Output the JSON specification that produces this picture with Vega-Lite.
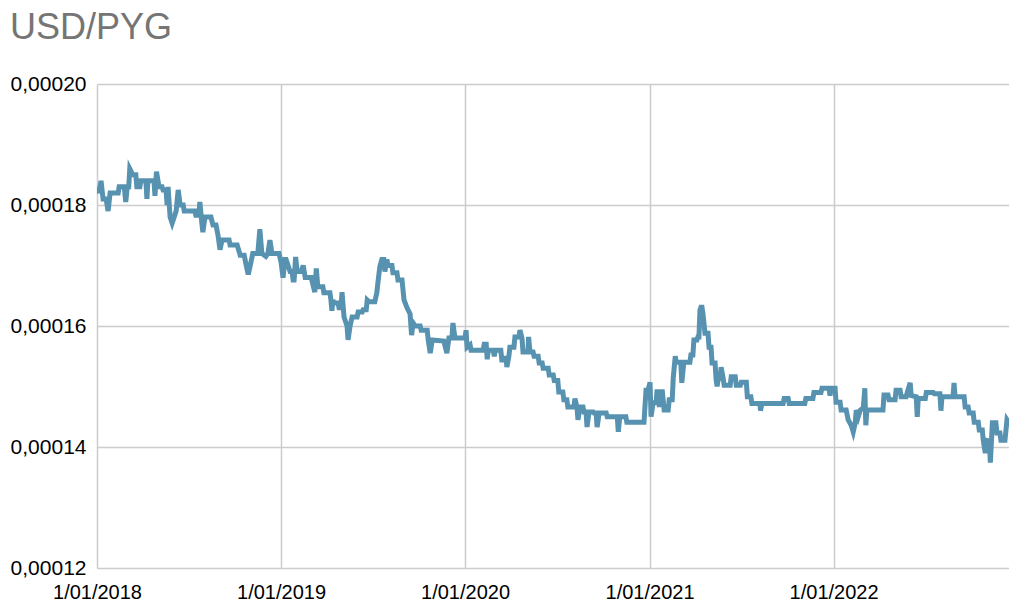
{
  "$schema": "https://vega.github.io/schema/vega-lite/v6.json",
  "autosize": "none",
  "width": 912,
  "height": 484,
  "padding": {"left": 97, "top": 84, "right": 0, "bottom": 35},
  "background": "white",
  "title": {
    "text": "USD/PYG",
    "anchor": "start",
    "frame": "group",
    "dx": -87,
    "offset": 26,
    "font": "Liberation Sans",
    "fontSize": 36,
    "fontWeight": "normal",
    "color": "#757575"
  },
  "config": {
    "view": {"stroke": null},
    "font": "Liberation Sans"
  },
  "data": {
    "values": [
      {"date": "2018-01-01", "rate": 0.000183},
      {"date": "2018-01-05", "rate": 0.000182},
      {"date": "2018-01-09", "rate": 0.000184},
      {"date": "2018-01-13", "rate": 0.000181},
      {"date": "2018-01-19", "rate": 0.000181},
      {"date": "2018-01-23", "rate": 0.000179},
      {"date": "2018-01-27", "rate": 0.000182},
      {"date": "2018-02-12", "rate": 0.000182},
      {"date": "2018-02-14", "rate": 0.000183},
      {"date": "2018-02-24", "rate": 0.000183},
      {"date": "2018-02-27", "rate": 0.0001805},
      {"date": "2018-03-02", "rate": 0.000183},
      {"date": "2018-03-05", "rate": 0.000183},
      {"date": "2018-03-07", "rate": 0.000186},
      {"date": "2018-03-13", "rate": 0.000185},
      {"date": "2018-03-19", "rate": 0.000185},
      {"date": "2018-03-21", "rate": 0.000183},
      {"date": "2018-03-27", "rate": 0.000183},
      {"date": "2018-03-29", "rate": 0.000184},
      {"date": "2018-04-08", "rate": 0.000184},
      {"date": "2018-04-10", "rate": 0.000181},
      {"date": "2018-04-12", "rate": 0.000184},
      {"date": "2018-04-24", "rate": 0.000184},
      {"date": "2018-04-26", "rate": 0.0001815},
      {"date": "2018-04-29", "rate": 0.0001855},
      {"date": "2018-05-04", "rate": 0.000183},
      {"date": "2018-05-10", "rate": 0.000183},
      {"date": "2018-05-12", "rate": 0.0001825},
      {"date": "2018-05-18", "rate": 0.0001825},
      {"date": "2018-05-20", "rate": 0.00018},
      {"date": "2018-05-22", "rate": 0.000183},
      {"date": "2018-05-26", "rate": 0.000178},
      {"date": "2018-05-30", "rate": 0.000177},
      {"date": "2018-06-03", "rate": 0.000178},
      {"date": "2018-06-07", "rate": 0.000179},
      {"date": "2018-06-11", "rate": 0.0001825},
      {"date": "2018-06-15", "rate": 0.00018},
      {"date": "2018-06-21", "rate": 0.00018},
      {"date": "2018-06-23", "rate": 0.000179},
      {"date": "2018-07-14", "rate": 0.000179},
      {"date": "2018-07-16", "rate": 0.0001783},
      {"date": "2018-07-22", "rate": 0.0001783},
      {"date": "2018-07-24", "rate": 0.0001805},
      {"date": "2018-07-28", "rate": 0.000177},
      {"date": "2018-07-30", "rate": 0.0001755},
      {"date": "2018-08-03", "rate": 0.000178},
      {"date": "2018-08-15", "rate": 0.000178},
      {"date": "2018-08-19", "rate": 0.0001767},
      {"date": "2018-08-25", "rate": 0.0001767},
      {"date": "2018-08-29", "rate": 0.000175},
      {"date": "2018-09-02", "rate": 0.0001726},
      {"date": "2018-09-06", "rate": 0.0001742},
      {"date": "2018-09-20", "rate": 0.0001742},
      {"date": "2018-09-22", "rate": 0.0001734},
      {"date": "2018-10-06", "rate": 0.0001734},
      {"date": "2018-10-12", "rate": 0.0001717},
      {"date": "2018-10-20", "rate": 0.0001717},
      {"date": "2018-10-24", "rate": 0.00017},
      {"date": "2018-10-28", "rate": 0.0001685},
      {"date": "2018-11-01", "rate": 0.00017},
      {"date": "2018-11-06", "rate": 0.000172},
      {"date": "2018-11-16", "rate": 0.000172},
      {"date": "2018-11-20", "rate": 0.000176},
      {"date": "2018-11-24", "rate": 0.000172},
      {"date": "2018-12-02", "rate": 0.0001715},
      {"date": "2018-12-06", "rate": 0.000172},
      {"date": "2018-12-10", "rate": 0.0001742},
      {"date": "2018-12-14", "rate": 0.000172},
      {"date": "2018-12-28", "rate": 0.000172},
      {"date": "2019-01-01", "rate": 0.0001706},
      {"date": "2019-01-05", "rate": 0.000168},
      {"date": "2019-01-09", "rate": 0.000171},
      {"date": "2019-01-11", "rate": 0.000171},
      {"date": "2019-01-19", "rate": 0.000169},
      {"date": "2019-01-23", "rate": 0.000169},
      {"date": "2019-01-25", "rate": 0.0001676},
      {"date": "2019-01-27", "rate": 0.0001676},
      {"date": "2019-01-30", "rate": 0.0001714},
      {"date": "2019-02-02", "rate": 0.000169},
      {"date": "2019-02-10", "rate": 0.000169},
      {"date": "2019-02-14", "rate": 0.00017},
      {"date": "2019-02-18", "rate": 0.000168},
      {"date": "2019-03-02", "rate": 0.000168},
      {"date": "2019-03-04", "rate": 0.0001673},
      {"date": "2019-03-09", "rate": 0.0001656},
      {"date": "2019-03-12", "rate": 0.0001695},
      {"date": "2019-03-15", "rate": 0.0001665},
      {"date": "2019-03-25", "rate": 0.0001665},
      {"date": "2019-03-27", "rate": 0.0001655},
      {"date": "2019-04-08", "rate": 0.0001655},
      {"date": "2019-04-10", "rate": 0.0001643},
      {"date": "2019-04-12", "rate": 0.0001625},
      {"date": "2019-04-14", "rate": 0.0001643},
      {"date": "2019-04-16", "rate": 0.0001638},
      {"date": "2019-04-24", "rate": 0.0001638},
      {"date": "2019-04-26", "rate": 0.000163},
      {"date": "2019-04-30", "rate": 0.000163},
      {"date": "2019-05-02", "rate": 0.0001656},
      {"date": "2019-05-06", "rate": 0.0001615},
      {"date": "2019-05-12", "rate": 0.00016},
      {"date": "2019-05-14", "rate": 0.0001577},
      {"date": "2019-05-18", "rate": 0.00016},
      {"date": "2019-05-22", "rate": 0.0001615},
      {"date": "2019-06-01", "rate": 0.0001615},
      {"date": "2019-06-03", "rate": 0.0001623},
      {"date": "2019-06-11", "rate": 0.0001623},
      {"date": "2019-06-13", "rate": 0.0001627},
      {"date": "2019-06-19", "rate": 0.0001627},
      {"date": "2019-06-21", "rate": 0.0001643},
      {"date": "2019-06-25", "rate": 0.000164},
      {"date": "2019-07-06", "rate": 0.000164},
      {"date": "2019-07-10", "rate": 0.0001655},
      {"date": "2019-07-12", "rate": 0.000167},
      {"date": "2019-07-16", "rate": 0.0001698},
      {"date": "2019-07-20", "rate": 0.000171},
      {"date": "2019-07-24", "rate": 0.000171},
      {"date": "2019-07-26", "rate": 0.000169},
      {"date": "2019-07-30", "rate": 0.000171},
      {"date": "2019-08-01", "rate": 0.00017},
      {"date": "2019-08-09", "rate": 0.00017},
      {"date": "2019-08-11", "rate": 0.0001688},
      {"date": "2019-08-19", "rate": 0.0001688},
      {"date": "2019-08-21", "rate": 0.0001676},
      {"date": "2019-08-29", "rate": 0.0001676},
      {"date": "2019-09-02", "rate": 0.0001643},
      {"date": "2019-09-08", "rate": 0.000163},
      {"date": "2019-09-14", "rate": 0.000162},
      {"date": "2019-09-17", "rate": 0.0001585},
      {"date": "2019-09-20", "rate": 0.0001605},
      {"date": "2019-09-24", "rate": 0.00016},
      {"date": "2019-10-04", "rate": 0.00016},
      {"date": "2019-10-06", "rate": 0.0001593},
      {"date": "2019-10-18", "rate": 0.0001593},
      {"date": "2019-10-20", "rate": 0.0001577},
      {"date": "2019-10-24", "rate": 0.0001555},
      {"date": "2019-10-28", "rate": 0.0001577},
      {"date": "2019-11-20", "rate": 0.0001575},
      {"date": "2019-11-26", "rate": 0.0001555},
      {"date": "2019-11-30", "rate": 0.000158},
      {"date": "2019-12-06", "rate": 0.000158},
      {"date": "2019-12-08", "rate": 0.0001605},
      {"date": "2019-12-12", "rate": 0.000158},
      {"date": "2020-01-01", "rate": 0.000158},
      {"date": "2020-01-03", "rate": 0.0001593},
      {"date": "2020-01-05", "rate": 0.0001565},
      {"date": "2020-01-11", "rate": 0.0001569},
      {"date": "2020-01-13", "rate": 0.000156},
      {"date": "2020-02-06", "rate": 0.000156},
      {"date": "2020-02-08", "rate": 0.000157},
      {"date": "2020-02-12", "rate": 0.000157},
      {"date": "2020-02-14", "rate": 0.0001545},
      {"date": "2020-02-16", "rate": 0.000156},
      {"date": "2020-02-26", "rate": 0.000156},
      {"date": "2020-02-28", "rate": 0.000155},
      {"date": "2020-03-01", "rate": 0.000156},
      {"date": "2020-03-12", "rate": 0.000156},
      {"date": "2020-03-14", "rate": 0.0001544},
      {"date": "2020-03-20", "rate": 0.0001544},
      {"date": "2020-03-22", "rate": 0.000155},
      {"date": "2020-03-24", "rate": 0.0001532},
      {"date": "2020-03-28", "rate": 0.000155},
      {"date": "2020-03-30", "rate": 0.0001565},
      {"date": "2020-04-07", "rate": 0.0001565},
      {"date": "2020-04-09", "rate": 0.0001582},
      {"date": "2020-04-17", "rate": 0.0001582},
      {"date": "2020-04-19", "rate": 0.0001593},
      {"date": "2020-04-23", "rate": 0.000158},
      {"date": "2020-04-25", "rate": 0.0001557},
      {"date": "2020-05-05", "rate": 0.0001557},
      {"date": "2020-05-06", "rate": 0.0001582},
      {"date": "2020-05-09", "rate": 0.0001557},
      {"date": "2020-05-15", "rate": 0.0001557},
      {"date": "2020-05-17", "rate": 0.000155},
      {"date": "2020-05-25", "rate": 0.000155},
      {"date": "2020-05-27", "rate": 0.0001539},
      {"date": "2020-06-02", "rate": 0.0001539},
      {"date": "2020-06-04", "rate": 0.000153},
      {"date": "2020-06-14", "rate": 0.000153},
      {"date": "2020-06-16", "rate": 0.0001519},
      {"date": "2020-06-24", "rate": 0.0001519},
      {"date": "2020-06-26", "rate": 0.000151},
      {"date": "2020-07-03", "rate": 0.000151},
      {"date": "2020-07-05", "rate": 0.0001491},
      {"date": "2020-07-13", "rate": 0.0001491},
      {"date": "2020-07-15", "rate": 0.0001478},
      {"date": "2020-07-21", "rate": 0.0001478},
      {"date": "2020-07-23", "rate": 0.0001466},
      {"date": "2020-08-04", "rate": 0.0001466},
      {"date": "2020-08-06", "rate": 0.000148},
      {"date": "2020-08-10", "rate": 0.0001466},
      {"date": "2020-08-12", "rate": 0.0001445},
      {"date": "2020-08-16", "rate": 0.0001466},
      {"date": "2020-08-22", "rate": 0.0001466},
      {"date": "2020-08-24", "rate": 0.0001458},
      {"date": "2020-08-28", "rate": 0.0001458},
      {"date": "2020-08-30", "rate": 0.0001433},
      {"date": "2020-09-03", "rate": 0.0001458},
      {"date": "2020-09-11", "rate": 0.0001458},
      {"date": "2020-09-13", "rate": 0.0001456},
      {"date": "2020-09-17", "rate": 0.0001456},
      {"date": "2020-09-19", "rate": 0.0001433},
      {"date": "2020-09-23", "rate": 0.0001456},
      {"date": "2020-10-07", "rate": 0.0001456},
      {"date": "2020-10-09", "rate": 0.000145},
      {"date": "2020-10-29", "rate": 0.000145},
      {"date": "2020-10-31", "rate": 0.0001425},
      {"date": "2020-11-03", "rate": 0.000145},
      {"date": "2020-11-15", "rate": 0.000145},
      {"date": "2020-11-17", "rate": 0.0001441},
      {"date": "2020-12-21", "rate": 0.0001441},
      {"date": "2020-12-25", "rate": 0.0001494},
      {"date": "2020-12-29", "rate": 0.0001494},
      {"date": "2021-01-02", "rate": 0.0001507},
      {"date": "2021-01-04", "rate": 0.000145},
      {"date": "2021-01-08", "rate": 0.0001473},
      {"date": "2021-01-14", "rate": 0.0001473},
      {"date": "2021-01-16", "rate": 0.0001495},
      {"date": "2021-01-20", "rate": 0.000147},
      {"date": "2021-01-24", "rate": 0.000147},
      {"date": "2021-01-26", "rate": 0.0001495},
      {"date": "2021-01-30", "rate": 0.0001461},
      {"date": "2021-02-07", "rate": 0.0001461},
      {"date": "2021-02-09", "rate": 0.0001478},
      {"date": "2021-02-15", "rate": 0.0001478},
      {"date": "2021-02-17", "rate": 0.0001514},
      {"date": "2021-02-21", "rate": 0.000155},
      {"date": "2021-02-23", "rate": 0.000154},
      {"date": "2021-03-04", "rate": 0.000154},
      {"date": "2021-03-06", "rate": 0.0001506},
      {"date": "2021-03-10", "rate": 0.000154},
      {"date": "2021-03-22", "rate": 0.000154},
      {"date": "2021-03-24", "rate": 0.0001552},
      {"date": "2021-03-28", "rate": 0.0001552},
      {"date": "2021-03-30", "rate": 0.0001577},
      {"date": "2021-04-05", "rate": 0.0001577},
      {"date": "2021-04-07", "rate": 0.0001582},
      {"date": "2021-04-09", "rate": 0.0001582},
      {"date": "2021-04-11", "rate": 0.0001626},
      {"date": "2021-04-13", "rate": 0.0001631},
      {"date": "2021-04-15", "rate": 0.0001631},
      {"date": "2021-04-17", "rate": 0.000162},
      {"date": "2021-04-21", "rate": 0.0001588},
      {"date": "2021-04-27", "rate": 0.0001588},
      {"date": "2021-04-29", "rate": 0.0001565},
      {"date": "2021-05-03", "rate": 0.0001565},
      {"date": "2021-05-05", "rate": 0.0001539},
      {"date": "2021-05-11", "rate": 0.0001539},
      {"date": "2021-05-13", "rate": 0.0001511},
      {"date": "2021-05-15", "rate": 0.00015},
      {"date": "2021-05-17", "rate": 0.0001511},
      {"date": "2021-05-21", "rate": 0.0001514},
      {"date": "2021-05-23", "rate": 0.0001532},
      {"date": "2021-05-27", "rate": 0.0001514},
      {"date": "2021-05-29", "rate": 0.0001502},
      {"date": "2021-06-10", "rate": 0.0001502},
      {"date": "2021-06-12", "rate": 0.0001516},
      {"date": "2021-06-20", "rate": 0.0001516},
      {"date": "2021-06-22", "rate": 0.0001502},
      {"date": "2021-06-30", "rate": 0.0001502},
      {"date": "2021-07-02", "rate": 0.0001507},
      {"date": "2021-07-12", "rate": 0.0001507},
      {"date": "2021-07-14", "rate": 0.0001483},
      {"date": "2021-07-21", "rate": 0.0001483},
      {"date": "2021-07-23", "rate": 0.0001472},
      {"date": "2021-08-08", "rate": 0.0001472},
      {"date": "2021-08-09", "rate": 0.000146},
      {"date": "2021-08-12", "rate": 0.0001472},
      {"date": "2021-09-23", "rate": 0.0001472},
      {"date": "2021-09-25", "rate": 0.000148},
      {"date": "2021-10-03", "rate": 0.000148},
      {"date": "2021-10-05", "rate": 0.0001472},
      {"date": "2021-11-05", "rate": 0.0001472},
      {"date": "2021-11-07", "rate": 0.000148},
      {"date": "2021-11-21", "rate": 0.000148},
      {"date": "2021-11-23", "rate": 0.000149},
      {"date": "2021-12-07", "rate": 0.000149},
      {"date": "2021-12-09", "rate": 0.0001497},
      {"date": "2021-12-23", "rate": 0.0001497},
      {"date": "2021-12-25", "rate": 0.0001485},
      {"date": "2021-12-27", "rate": 0.0001497},
      {"date": "2022-01-04", "rate": 0.0001497},
      {"date": "2022-01-06", "rate": 0.0001474},
      {"date": "2022-01-14", "rate": 0.0001474},
      {"date": "2022-01-16", "rate": 0.0001461},
      {"date": "2022-01-26", "rate": 0.0001461},
      {"date": "2022-01-30", "rate": 0.0001445},
      {"date": "2022-02-05", "rate": 0.0001436},
      {"date": "2022-02-09", "rate": 0.0001425},
      {"date": "2022-02-13", "rate": 0.000144},
      {"date": "2022-02-15", "rate": 0.0001461},
      {"date": "2022-02-19", "rate": 0.000145},
      {"date": "2022-02-23", "rate": 0.0001461},
      {"date": "2022-03-01", "rate": 0.0001465},
      {"date": "2022-03-04", "rate": 0.0001497},
      {"date": "2022-03-06", "rate": 0.0001436},
      {"date": "2022-03-08", "rate": 0.0001461},
      {"date": "2022-04-09", "rate": 0.0001461},
      {"date": "2022-04-11", "rate": 0.0001486},
      {"date": "2022-04-19", "rate": 0.0001486},
      {"date": "2022-04-21", "rate": 0.0001478},
      {"date": "2022-05-03", "rate": 0.0001478},
      {"date": "2022-05-05", "rate": 0.0001494},
      {"date": "2022-05-13", "rate": 0.0001494},
      {"date": "2022-05-15", "rate": 0.0001483},
      {"date": "2022-05-25", "rate": 0.0001483},
      {"date": "2022-05-27", "rate": 0.000149},
      {"date": "2022-06-02", "rate": 0.0001506},
      {"date": "2022-06-04", "rate": 0.0001485},
      {"date": "2022-06-14", "rate": 0.0001483},
      {"date": "2022-06-16", "rate": 0.000145},
      {"date": "2022-06-18", "rate": 0.000148},
      {"date": "2022-07-02", "rate": 0.000148},
      {"date": "2022-07-04", "rate": 0.000149},
      {"date": "2022-07-18", "rate": 0.000149},
      {"date": "2022-07-20", "rate": 0.0001488},
      {"date": "2022-07-31", "rate": 0.0001488},
      {"date": "2022-08-02", "rate": 0.000146},
      {"date": "2022-08-04", "rate": 0.0001483},
      {"date": "2022-08-26", "rate": 0.0001483},
      {"date": "2022-08-28", "rate": 0.0001506},
      {"date": "2022-08-30", "rate": 0.0001483},
      {"date": "2022-09-17", "rate": 0.0001483},
      {"date": "2022-09-19", "rate": 0.0001466},
      {"date": "2022-09-25", "rate": 0.0001466},
      {"date": "2022-09-27", "rate": 0.0001456},
      {"date": "2022-10-05", "rate": 0.0001456},
      {"date": "2022-10-07", "rate": 0.0001441},
      {"date": "2022-10-15", "rate": 0.0001441},
      {"date": "2022-10-17", "rate": 0.0001428},
      {"date": "2022-10-23", "rate": 0.0001428},
      {"date": "2022-10-25", "rate": 0.0001411},
      {"date": "2022-10-29", "rate": 0.000139},
      {"date": "2022-10-31", "rate": 0.0001411},
      {"date": "2022-11-06", "rate": 0.000141},
      {"date": "2022-11-08", "rate": 0.0001374},
      {"date": "2022-11-12", "rate": 0.000144},
      {"date": "2022-11-19", "rate": 0.000144},
      {"date": "2022-11-21", "rate": 0.0001423},
      {"date": "2022-11-27", "rate": 0.0001423},
      {"date": "2022-11-29", "rate": 0.0001411},
      {"date": "2022-12-07", "rate": 0.0001411},
      {"date": "2022-12-11", "rate": 0.0001445},
      {"date": "2022-12-15", "rate": 0.000144}
    ]
  },
  "mark": {"type": "line", "color": "#5792b0", "strokeWidth": 5, "strokeJoin": "miter", "clip": true},
  "encoding": {
    "x": {
      "field": "date",
      "type": "temporal",
      "scale": {"domain": [{"year": 2018, "month": 1, "date": 1}, {"year": 2022, "month": 12, "date": 15}]},
      "axis": {
        "title": null,
        "format": "%-d/%m/%Y",
        "tickCount": {"interval": "year", "step": 1},
        "labelFlush": false,
        "labelOverlap": false,
        "ticks": false,
        "domain": false,
        "grid": true,
        "gridColor": "#cccccc",
        "gridWidth": 1.5,
        "labelFont": "Liberation Sans",
        "labelFontSize": 20,
        "labelColor": "#000000",
        "labelPadding": 14
      }
    },
    "y": {
      "field": "rate",
      "type": "quantitative",
      "scale": {"domain": [0.00012, 0.0002], "zero": false, "nice": false},
      "axis": {
        "title": null,
        "values": [0.00012, 0.00014, 0.00016, 0.00018, 0.0002],
        "labelExpr": "replace(format(datum.value, '.5f'), '.', ',')",
        "ticks": false,
        "domain": false,
        "grid": true,
        "gridColor": "#cccccc",
        "gridWidth": 1.5,
        "labelFont": "Liberation Sans",
        "labelFontSize": 21,
        "labelColor": "#000000",
        "labelPadding": 11
      }
    }
  }
}
